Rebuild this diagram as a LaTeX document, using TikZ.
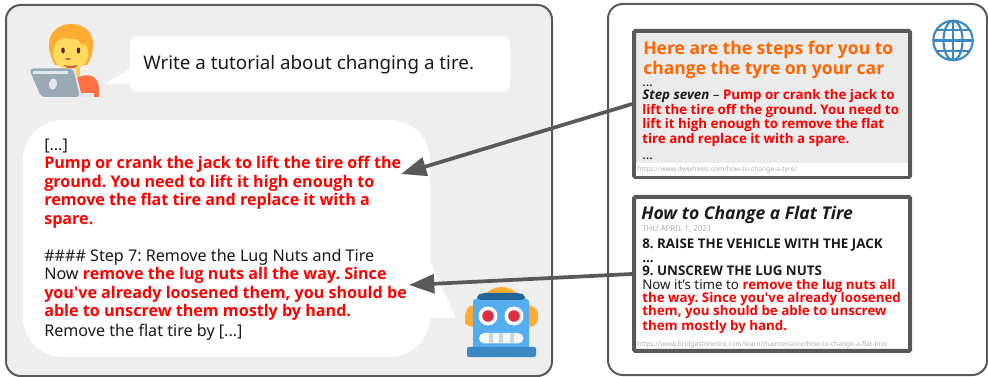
\documentclass[tikz,border=0pt]{standalone}
\usepackage{fontspec}
\setmainfont{Noto Sans}
\newfontfamily\opensansfam{Open Sans}
\usetikzlibrary{arrows.meta}
\frenchspacing
\definecolor{framegray}{HTML}{595959}
\definecolor{panelgray}{HTML}{EEEEEE}
\definecolor{boxgray}{HTML}{EBEBEB}
\definecolor{inktext}{HTML}{1A1A1A}
\definecolor{hiorange}{HTML}{FF6600}
\definecolor{urlgray}{HTML}{B0B0B0}
\definecolor{iconblue}{HTML}{3B88C3}
\definecolor{robotblue}{HTML}{55ACEE}
\definecolor{robothat}{HTML}{226699}
\definecolor{amber}{HTML}{FFAC33}
\definecolor{skin}{HTML}{FFDC5D}
\definecolor{neckskin}{HTML}{F9CA55}
\definecolor{eyebrown}{HTML}{662113}
\definecolor{mouthbrown}{HTML}{C1694F}
\definecolor{laptop}{HTML}{99AAB5}
\definecolor{laptoplight}{HTML}{E1E8ED}
\definecolor{shirt}{HTML}{FF7043}
\definecolor{robotred}{HTML}{DD2E44}
\definecolor{stripe}{HTML}{CCD6DD}
\definecolor{toothwhite}{HTML}{F5F8FA}
\newcommand{\hl}[1]{\textcolor{red}{\opensansfam\bfseries #1}}
\newcommand{\bfo}{\opensansfam\bfseries}
\tikzset{
  x=0.75pt,y=-0.75pt,
  panel/.style={draw=framegray,line width=1.5pt,rounded corners=11pt},
  srcbox/.style={draw=framegray,line width=3pt,rounded corners=1pt,inner sep=0pt,minimum width=207pt},
  strip/.style={fill=white,draw=none,inner sep=0pt,minimum width=204pt,minimum height=9.4pt},
  link/.style={draw=framegray,line width=2.8pt,-{Triangle[length=19pt,width=14pt,inset=0pt]},shorten >=0pt},
  body/.style={anchor=base west,inner sep=0pt,font=\fontsize{12.1pt}{13pt}\selectfont,text=inktext},
  small/.style={anchor=base west,inner sep=0pt,font=\fontsize{10pt}{11pt}\selectfont,text=inktext},
  url/.style={anchor=base west,inner sep=0pt,font=\fontsize{5.03pt}{6pt}\selectfont,text=urlgray},
  headline/.style={anchor=base west,inner sep=0pt,font=\fontsize{13.15pt}{15pt}\selectfont\bfo},
}
\begin{document}
\begin{tikzpicture}
\useasboundingbox (0,0) rectangle (988,377);
% panels
\draw[panel,fill=panelgray] (6,5) rectangle (552,376);
\draw[panel,fill=white] (608,4) rectangle (987,375);
% user bubble
\fill[white,rounded corners=6pt] (130,36) rectangle (510,92);
\fill[white] (104,84) -- (132,68) -- (132,84) -- cycle;
\node[body,font=\fontsize{14.08pt}{15pt}\selectfont] (prompt) at (143,70) {Write a tutorial about changing a tire.};
% assistant bubble
\fill[white,rounded corners=30pt] (23,120) rectangle (430,357);
\fill[white] (428,258) -- (456,318) -- (425,318) -- cycle;
\node[body] (a1) at (44,151) {[...]};
\node[body] (a2) at (44,169) {\hl{Pump or crank the jack to lift the tire off the}};
\node[body] (a3) at (44,188) {\hl{ground. You need to lift it high enough to}};
\node[body] (a4) at (44,206) {\hl{remove the flat tire and replace it with a}};
\node[body] (a5) at (44,225) {\hl{spare.}};
\node[body] (a6) at (44,262) {\#\#\#\# Step 7: Remove the Lug Nuts and Tire};
\node[body] (a7) at (44,280) {Now \hl{remove the lug nuts all the way. Since}};
\node[body] (a8) at (44,299) {\hl{you've already loosened them, you should be}};
\node[body] (a9) at (44,317) {\hl{able to unscrew them mostly by hand.}};
\node[body] (a10) at (44,336) {Remove the flat tire by [...]};
% person
\fill[amber] (71,24) .. controls (85,24) and (93,33) .. (93,44) .. controls (93,52) and (91,60) .. (87,65) -- (55,65) .. controls (51,58) and (49,52) .. (49,44) .. controls (49,33) and (58,24) .. (71,24) -- cycle;
\fill[neckskin] (67,66) rectangle (80,80);
\fill[skin] (71,70) .. controls (60,70) and (53,62) .. (53,52) .. controls (53,45) and (58,39) .. (64,38) .. controls (68,39) and (75,38) .. (78,40) .. controls (80,44) and (83,46) .. (85,44) .. controls (88,47) and (88.5,50) .. (88.5,53) .. controls (88.5,62) and (81,70) .. (71,70) -- cycle;
\fill[eyebrown] (63,50.5) ellipse (1.8 and 3);
\fill[eyebrown] (78.5,50.5) ellipse (1.8 and 3);
\fill[mouthbrown] (68,59) ellipse (3 and 1);
\fill[mouthbrown] (63.5,65) .. controls (67,66) and (74,66) .. (78,65) .. controls (76,69.5) and (66,69.5) .. (63.5,65) -- cycle;
\fill[shirt] (77,78) .. controls (84,74) and (99,72) .. (99,90) -- (99,97) -- (77,97) -- cycle;
\fill[laptoplight] (80,93) rectangle (94,97);
\fill[laptoplight,rounded corners=1pt] (70,68.5) -- (75,68.5) -- (82,97) -- (77,97) -- cycle;
\fill[laptop,rounded corners=3pt] (29,68.5) -- (73,68.5) -- (80,97) -- (41,97) -- cycle;
\fill[laptoplight] (33,71) rectangle (68,74);
\fill[laptoplight,rotate around={-10:(53,84)}] (53,84) ellipse (4 and 5.7);
% robot
\fill[amber] (483,298) .. controls (487,290) and (495,287) .. (501,287) .. controls (508,287) and (516,290) .. (520,298) -- cycle;
\fill[amber,rounded corners=3pt] (465,320) .. controls (465,313) and (468,307) .. (473,305) -- (477,305) -- (477,327) -- (473,327) .. controls (468,326) and (465,323) .. (465,320) -- cycle;
\fill[amber,rounded corners=3pt] (538,316) .. controls (538,311) and (534,307) .. (529,305) -- (525,305) -- (525,327) -- (529,327) .. controls (534,326) and (538,322) .. (538,316) -- cycle;
\fill[robotblue,rounded corners=2pt] (473,299) rectangle (529,352);
\fill[robothat,rounded corners=3pt] (477,300) -- (477,296) -- (481,293) -- (521,293) -- (525,296) -- (525,300) -- cycle;
\fill[white] (488,316) circle (9.5);
\fill[white] (514,316) circle (9.5);
\fill[robotred] (488,316) circle (5.8);
\fill[robotred] (514,316) circle (5.8);
\fill[toothwhite,rounded corners=4pt] (479,333) rectangle (523.5,343.5);
\foreach \sx in {489,499,510}{\fill[stripe] (\sx,333) rectangle (\sx+4,343.5);}
\fill[iconblue,rounded corners=1.5pt] (467,347) rectangle (536,357);
\fill[robotblue] (493,346) -- (510,346) -- (501.5,355) -- cycle;
\fill[iconblue] (494,347) -- (509,347) -- (501.5,355) -- cycle;
% globe
\begin{scope}[draw=iconblue,line width=1.6pt]
\draw (953,40.5) circle (19.7);
\draw (953,40.5) ellipse (9.5 and 19.7);
\draw (953,21) -- (953,60);
\draw (933.5,40.5) -- (972.5,40.5);
\draw (937,30) -- (969,30);
\draw (937,51) -- (969,51);
\end{scope}
% source box 1
\node[srcbox,fill=boxgray,minimum height=109.5pt] (src1) at (772,104) {};
\node[strip] (src1strip) at (772,169.3) {};
\node[headline,text=hiorange] (t1) at (643,54.5) {Here are the steps for you to};
\node[headline,text=hiorange] (t2) at (643,75) {change the tyre on your car};
\node[small] (s1) at (642,87) {...};
\node[small] (s2) at (642,100) {{\bfo\itshape Step seven} – \hl{Pump or crank the jack to}};
\node[small] (s3) at (642,115) {\hl{lift the tire off the ground. You need to}};
\node[small] (s4) at (642,129) {\hl{lift it high enough to remove the flat}};
\node[small] (s5) at (642,144) {\hl{tire and replace it with a spare.}};
\node[small] (s6) at (642,160) {...};
\node[url] (u1) at (637,172) {https://www.dwwheels.com/how-to-change-a-tyre/};
% source box 2
\node[srcbox,fill=white,minimum height=115.5pt] (src2) at (772,274) {};
\node[headline,text=inktext,font=\fontsize{13.15pt}{15pt}\selectfont\bfo\itshape] (h1) at (641,220) {How to Change a Flat Tire};
\node[url,font=\fontsize{6pt}{7pt}\selectfont] (h2) at (642,232) {THU APRIL 1, 2021};
\node[small,font=\fontsize{10pt}{11pt}\selectfont\bfo] (h3) at (642,249) {8. RAISE THE VEHICLE WITH THE JACK};
\node[small,font=\fontsize{10pt}{11pt}\selectfont\bfo] (h4) at (642,263) {...};
\node[small,font=\fontsize{10pt}{11pt}\selectfont\bfo] (h5) at (642,276) {9. UNSCREW THE LUG NUTS};
\node[small] (h6) at (642,290) {Now it’s time to \hl{remove the lug nuts all}};
\node[small] (h7) at (642,303) {\hl{the way. Since you've already loosened}};
\node[small] (h8) at (642,316) {\hl{them, you should be able to unscrew}};
\node[small] (h9) at (642,330) {\hl{them mostly by hand.}};
\node[url] (u2) at (637,346) {https://www.bridgestonetire.com/learn/maintenance/how-to-change-a-flat-tire/};
% connectors
\coordinate (tip1) at (401,174);
\coordinate (tip2) at (409,285);
\draw[link] (src1.west) -- (tip1);
\draw[link] (src2.west) -- (tip2);
\end{tikzpicture}
\end{document}
